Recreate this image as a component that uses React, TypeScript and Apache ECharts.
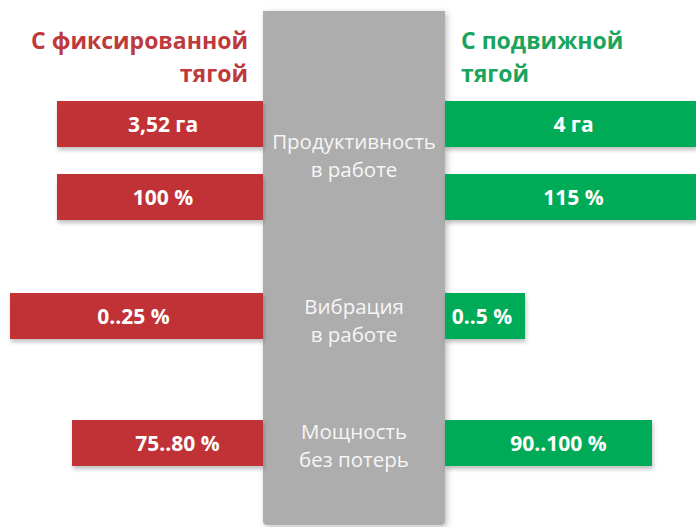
import React, { useEffect, useRef } from "react";
import * as echarts from "echarts";

// ---- data ----
const rowNames = ["Продуктивность, га", "Продуктивность, %", "Вибрация", "Мощность"];
const leftLengths = [206, 206, 253, 191];
const rightLengths = [251, 251, 80, 207];
const leftLabels = ["3,52 га", "100 %", "0..25 %", "75..80 %"];
const rightLabels = ["4 га", "115 %", "0..5 %", "90..100 %"];
const centerLabels = ["Продуктивность\nв работе", "Вибрация\nв работе", "Мощность\nбез потерь"];
const leftTitle = "С фиксированной\nтягой";
const rightTitle = "С подвижной\nтягой";

// ---- layout ----
const W = 696;
const H = 527;
const ROW_TOPS = [101, 174, 293, 420];
const LABEL_DX = [3, 3, -3, 10];
const BAR_H = 46;
const GAP_L = 263;
const GAP_R = 445;
const CENTER_Y = [154.5, 320, 444.5];
const FONT = '"Open Sans", "Noto Sans", sans-serif';
const RED = "#c03134";
const GREEN = "#00ab59";
const GRAY = "#adadad";

export default function App() {
  const ref = useRef<HTMLDivElement>(null);
  useEffect(() => {
    document.body.style.margin = "0";
    const chart = echarts.init(ref.current!, null, { renderer: "svg" });
    const grids: any[] = [];
    const xAxes: any[] = [];
    const yAxes: any[] = [];
    const series: any[] = [];
    const labelStyle = {
      show: true,
      position: "inside",
      color: "#ffffff",
      fontWeight: "bold",
      fontSize: 21,
      fontFamily: FONT,
    };
    const shadow = { shadowBlur: 4, shadowOffsetX: 1, shadowOffsetY: 3, shadowColor: "rgba(0,0,0,0.25)" };
    rowNames.forEach((name, i) => {
      // left
      grids.push({ left: 0, top: ROW_TOPS[i], width: GAP_L, height: BAR_H });
      xAxes.push({ type: "value", gridIndex: 2 * i, min: 0, max: GAP_L, inverse: true, show: false });
      yAxes.push({ type: "category", gridIndex: 2 * i, data: [name], show: false });
      series.push({
        type: "bar",
        xAxisIndex: 2 * i,
        yAxisIndex: 2 * i,
        data: [leftLengths[i]],
        barWidth: "100%",
        itemStyle: { color: RED, ...shadow },
        label: { ...labelStyle, offset: [LABEL_DX[i], 0], formatter: () => leftLabels[i] },
        z: 3,
      });
      // right
      grids.push({ left: GAP_R, top: ROW_TOPS[i], width: W - GAP_R, height: BAR_H });
      xAxes.push({ type: "value", gridIndex: 2 * i + 1, min: 0, max: W - GAP_R, show: false });
      yAxes.push({ type: "category", gridIndex: 2 * i + 1, data: [name], show: false });
      series.push({
        type: "bar",
        xAxisIndex: 2 * i + 1,
        yAxisIndex: 2 * i + 1,
        data: [rightLengths[i]],
        barWidth: "100%",
        itemStyle: { color: GREEN, ...shadow },
        label: { ...labelStyle, offset: [LABEL_DX[i], 0], formatter: () => rightLabels[i] },
        z: 3,
      });
    });

    const graphic: any[] = [
      {
        type: "rect",
        shape: { x: GAP_L, y: 11, width: GAP_R - GAP_L, height: 514, r: [0, 0, 4, 4] },
        style: { fill: GRAY, shadowBlur: 6, shadowOffsetX: 2, shadowOffsetY: 2, shadowColor: "rgba(0,0,0,0.25)" },
        z: 1,
      },
      {
        type: "text",
        x: 248,
        y: 56.5,
        style: {
          text: leftTitle,
          fill: "#be3a3c",
          font: `bold 23px ${FONT}`,
          textAlign: "right",
          textVerticalAlign: "middle",
          lineHeight: 33,
        },
        z: 5,
      },
      {
        type: "text",
        x: 461,
        y: 56.5,
        style: {
          text: rightTitle,
          fill: "#1aa45e",
          font: `bold 23px ${FONT}`,
          textAlign: "left",
          textVerticalAlign: "middle",
          lineHeight: 33,
        },
        z: 5,
      },
      ...centerLabels.map((t, k) => ({
        type: "text",
        x: (GAP_L + GAP_R) / 2,
        y: CENTER_Y[k],
        style: {
          text: t,
          fill: "#f6f6f6",
          font: `20.5px ${FONT}`,
          textAlign: "center",
          textVerticalAlign: "middle",
          lineHeight: 28,
        },
        z: 5,
      })),
    ];

    chart.setOption({
      animation: false,
      backgroundColor: "#ffffff",
      grid: grids,
      xAxis: xAxes,
      yAxis: yAxes,
      series,
      graphic,
    });
    return () => chart.dispose();
  }, []);
  return <div ref={ref} style={{ width: W, height: H }} />;
}
